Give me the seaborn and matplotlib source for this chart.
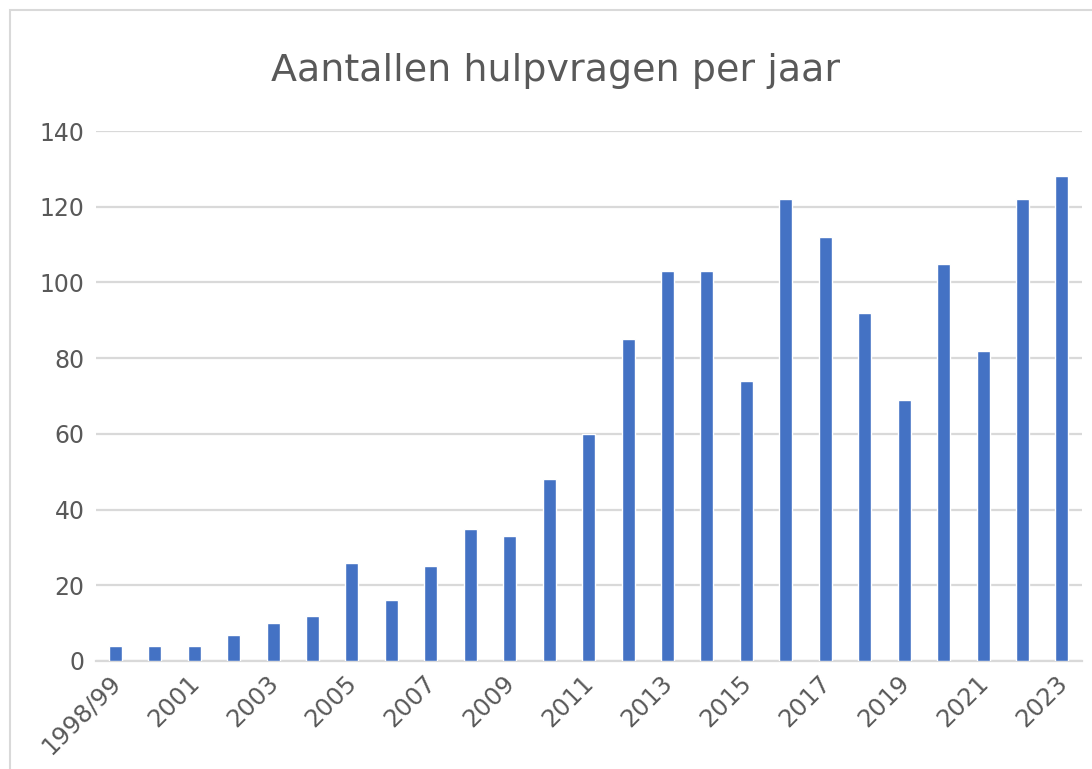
import matplotlib
matplotlib.use("Agg")
import matplotlib.pyplot as plt
import matplotlib.transforms as mtransforms
import seaborn as sns
import pandas as pd
from matplotlib.patches import Rectangle

years = ["1998/99"] + [str(y) for y in range(2000, 2024)]
counts = [4, 4, 4, 7, 10, 12, 26, 16, 25, 35, 33, 48, 60, 85, 103, 103, 74,
          122, 112, 92, 69, 105, 82, 122, 128]
title = "Aantallen hulpvragen per jaar"
yticks = [0, 20, 40, 60, 80, 100, 120, 140]

df = pd.DataFrame({"jaar": years, "aantal": counts})

sns.set_theme(style="white")
plt.rcParams['font.family'] = ['DejaVu Sans']

text_col = "#595959"
grid_col = "#D9D9D9"

fig = plt.figure(figsize=(10.92, 7.69), dpi=100)
ax = fig.add_axes([95.5/1092, 1-661/769, (1081.7-95.5)/1092, 530/769])

sns.barplot(data=df, x="jaar", y="aantal", color="#4472C4", width=0.33,
            saturation=1, ax=ax, zorder=3)

ax.set_ylim(0, 140)
ax.set_yticks(yticks)
ax.set_yticklabels([str(v) for v in yticks])
ax.set_xlim(-0.5, len(years) - 0.5)
ax.yaxis.grid(True, color=grid_col, linewidth=1.6, zorder=0)
ax.set_axisbelow(True)
for s in ["top", "right", "left"]:
    ax.spines[s].set_visible(False)
ax.spines["bottom"].set_color(grid_col)
ax.spines["bottom"].set_linewidth(1.6)
ax.set_xlabel("")
ax.set_ylabel("")

xt = list(range(0, len(years), 2))
ax.set_xticks(xt)
ax.set_xticklabels([years[i] for i in xt], rotation=45, ha="right",
                   rotation_mode="anchor", fontsize=17.5, color=text_col)
ax.tick_params(axis="x", length=0, pad=7)
ax.tick_params(axis="y", length=0, pad=8, labelsize=17, labelcolor=text_col)

offset = mtransforms.ScaledTranslation(-7/100, 0, fig.dpi_scale_trans)
for lbl in ax.get_xticklabels():
    lbl.set_transform(lbl.get_transform() + offset)

fig.text(556/1092, 1-71/769, title, ha="center", va="center",
         fontsize=27.4, color=text_col)

fig.patches.append(Rectangle((10/1092, -0.05), 1.2, 1.05 - 10/769,
                             transform=fig.transFigure, fill=False,
                             edgecolor=grid_col, linewidth=1.5))

fig.savefig("out.png", dpi=100, facecolor="white")
